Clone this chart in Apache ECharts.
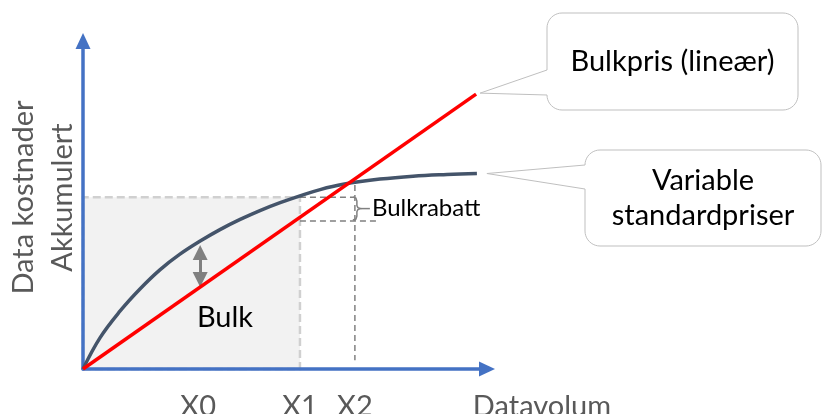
<!DOCTYPE html>
<html><head><meta charset="utf-8">
<script src="https://cdn.jsdelivr.net/npm/echarts@6/dist/echarts.min.js"></script>
<style>html,body{margin:0;padding:0;background:#fff}#c{width:822px;height:414px}</style>
</head><body><div id="c"></div>
<script>
// ---- data (diagram units: 0..100 on both axes) ----
const curveX = [0, 4.2, 9.2, 14.1, 19.1, 24.0, 29.0, 33.9, 38.9, 43.8, 48.8, 53.7, 58.7, 64.4, 73.5, 81.7, 90.1, 97.5];
const curveY = [0, 9.5, 17.7, 24.4, 30.3, 35.0, 39.0, 42.5, 45.6, 48.3, 50.7, 52.8, 54.7, 56.3, 57.9, 58.8, 59.3, 59.6];
const bulkX = [0, 97.3];
const bulkY = [0, 83.8];
const xTickValues = [28.5, 53.7, 67.3];
const xTickLabels = ['X0', 'X1', 'X2'];
const shadeTop = 52.4;          // curve value at X1
const bulkAtX1 = 45.1;          // bulk line value at X1
const x2Top = 56.1, x2Bottom = 2.7;
const discountLineEnd = 73.5;
const gapArrowX = 29.0, gapArrowTop = 35.5, gapArrowBottom = 27.3;
const xAxisTitle = 'Datavolum';
const yAxisTitle = 'Data kostnader\nAkkumulert';
const labelBulk = 'Bulk';
const labelDiscount = 'Bulkrabatt';
const calloutBulk = 'Bulkpris (lineær)';
const calloutStd = 'Variable\nstandardpriser';

const FONT = 'Lato';
const GRAY_TXT = '#595959';
const chart = echarts.init(document.getElementById('c'));

function dashed(points) {
  return {
    type: 'line', data: points, symbol: 'none', z: 2, silent: true,
    lineStyle: { color: '#808080', width: 1.5, type: [6, 4] }
  };
}

const axisLineStyle = { color: '#4472c4', width: 3.5 };
chart.setOption({
  animation: false,
  grid: { left: 83, right: 335, top: 41, bottom: 45, containLabel: false, outerBoundsMode: 'none' },
  xAxis: {
    type: 'value', min: 0, max: 100, z: 3,
    splitLine: { show: false }, axisTick: { show: false },
    axisLine: { show: true, onZero: false, symbol: ['none', 'triangle'], symbolSize: [15, 16], lineStyle: axisLineStyle },
    axisLabel: {
      customValues: xTickValues,
      formatter: function (v) { const i = xTickValues.indexOf(v); return i >= 0 ? xTickLabels[i] : ''; },
      margin: 23, fontSize: 29, fontFamily: FONT, color: GRAY_TXT
    }
  },
  yAxis: {
    type: 'value', min: 0, max: 100, z: 3,
    splitLine: { show: false }, axisTick: { show: false }, axisLabel: { show: false },
    axisLine: { show: true, onZero: false, symbol: ['none', 'triangle'], symbolSize: [15, 16], lineStyle: axisLineStyle }
  },
  series: [
    {
      type: 'line', data: [[0, 0]], symbol: 'none', z: 1, lineStyle: { opacity: 0 }, silent: true,
      markArea: {
        silent: true,
        itemStyle: { color: '#f2f2f2', borderColor: '#d0d0d0', borderWidth: 2.5, borderType: [8, 4] },
        data: [[{ coord: [0, 0] }, { coord: [xTickValues[1], shadeTop] }]]
      }
    },
    dashed([[xTickValues[2], x2Top], [xTickValues[2], x2Bottom]]),
    dashed([[xTickValues[1], shadeTop], [xTickValues[2], shadeTop]]),
    dashed([[xTickValues[1], bulkAtX1], [discountLineEnd, bulkAtX1]]),
    {
      type: 'line', smooth: 0.4, symbol: 'none', z: 5, silent: true,
      data: curveX.map((x, i) => [x, curveY[i]]),
      lineStyle: { color: '#44546a', width: 3.5 }
    },
    {
      type: 'line', symbol: 'none', z: 6, silent: true,
      data: bulkX.map((x, i) => [x, bulkY[i]]),
      lineStyle: { color: '#ff0000', width: 3.5 }
    },
    {
      type: 'line', data: [[gapArrowX, gapArrowTop]], symbol: 'none', z: 4, lineStyle: { opacity: 0 }, silent: true,
      markLine: {
        silent: true, symbol: ['triangle', 'triangle'], symbolSize: [15, 15],
        label: { show: false },
        lineStyle: { color: '#808080', width: 3, type: 'solid' },
        data: [[{ coord: [gapArrowX, gapArrowTop] }, { coord: [gapArrowX, gapArrowBottom] }]]
      }
    }
  ]
});

function arc(cx, cy, r, a0, a1, out) {
  const n = 10;
  for (let i = 0; i <= n; i++) {
    const a = (a0 + (a1 - a0) * i / n) * Math.PI / 180;
    out.push([cx + r * Math.cos(a), cy + r * Math.sin(a)]);
  }
}
function calloutPoints(b, r, a1, a2, tip) {
  const x0 = b.x, y0 = b.y, x1 = b.x + b.w, y1 = b.y + b.h, p = [];
  arc(x1 - r, y0 + r, r, -90, 0, p);
  arc(x1 - r, y1 - r, r, 0, 90, p);
  arc(x0 + r, y1 - r, r, 90, 180, p);
  p.push([x0, a2], tip, [x0, a1]);
  arc(x0 + r, y0 + r, r, 180, 270, p);
  return p;
}

const redEnd = chart.convertToPixel({ gridIndex: 0 }, [bulkX[1], bulkY[1]]);
const curveEnd = chart.convertToPixel({ gridIndex: 0 }, [curveX[curveX.length - 1], curveY[curveY.length - 1]]);
const x2px = chart.convertToPixel({ gridIndex: 0 }, [xTickValues[2], shadeTop]);
const botpx = chart.convertToPixel({ gridIndex: 0 }, [xTickValues[2], bulkAtX1]);

const bx = x2px[0] - 2, by0 = x2px[1], by1 = botpx[1] - 1, mid = (by0 + by1) / 2;
const bracketPts = [[bx, by0], [bx + 3, by0 + 1], [bx + 4, by0 + 4], [bx + 4, mid - 3], [bx + 5, mid - 1], [bx + 8, mid],
  [bx + 5, mid + 1], [bx + 4, mid + 3], [bx + 4, by1 - 4], [bx + 3, by1 - 1], [bx, by1]];

const box1 = { x: 547, y: 13, w: 251, h: 97 };
const box2 = { x: 585, y: 150, w: 236, h: 96 };

chart.setOption({
  graphic: [
    { type: 'polygon', silent: true, z: 10, shape: { points: calloutPoints(box1, 15, 70, 95, [redEnd[0] + 4, redEnd[1] - 1]) },
      style: { fill: '#fff', stroke: '#bfbfbf', lineWidth: 1 } },
    { type: 'polygon', silent: true, z: 10, shape: { points: calloutPoints(box2, 15, 165, 189, [curveEnd[0] + 10, curveEnd[1]]) },
      style: { fill: '#fff', stroke: '#bfbfbf', lineWidth: 1 } },
    { type: 'polyline', silent: true, z: 9, shape: { points: bracketPts },
      style: { fill: null, stroke: '#808080', lineWidth: 1.5 } },
    { type: 'line', silent: true, z: 9, shape: { x1: bx + 8, y1: mid, x2: bx + 17, y2: mid },
      style: { stroke: '#808080', lineWidth: 1.5 } },
    { type: 'text', silent: true, z: 11, x: box1.x + box1.w / 2, y: box1.y + box1.h / 2,
      style: { text: calloutBulk, font: `29px ${FONT}`, fill: '#000', align: 'center', verticalAlign: 'middle' } },
    { type: 'text', silent: true, z: 11, x: box2.x + box2.w / 2, y: box2.y + box2.h / 2,
      style: { text: calloutStd, font: `29px ${FONT}`, lineHeight: 35, fill: '#000', align: 'center', verticalAlign: 'middle' } },
    { type: 'text', silent: true, z: 11, x: 225, y: 318,
      style: { text: labelBulk, font: `29px ${FONT}`, fill: '#000', align: 'center', verticalAlign: 'middle' } },
    { type: 'text', silent: true, z: 11, x: bx + 19, y: mid,
      style: { text: labelDiscount, font: `24px ${FONT}`, fill: '#000', align: 'left', verticalAlign: 'middle' } },
    { type: 'text', silent: true, z: 11, x: 542, y: 407,
      style: { text: xAxisTitle, font: `29px ${FONT}`, fill: GRAY_TXT, align: 'center', verticalAlign: 'middle' } },
    { type: 'text', silent: true, z: 11, x: 43, y: 197.5, rotation: Math.PI / 2,
      style: { text: yAxisTitle, font: `29px ${FONT}`, lineHeight: 39, fill: GRAY_TXT, align: 'center', verticalAlign: 'middle' } }
  ]
});
</script></body></html>
